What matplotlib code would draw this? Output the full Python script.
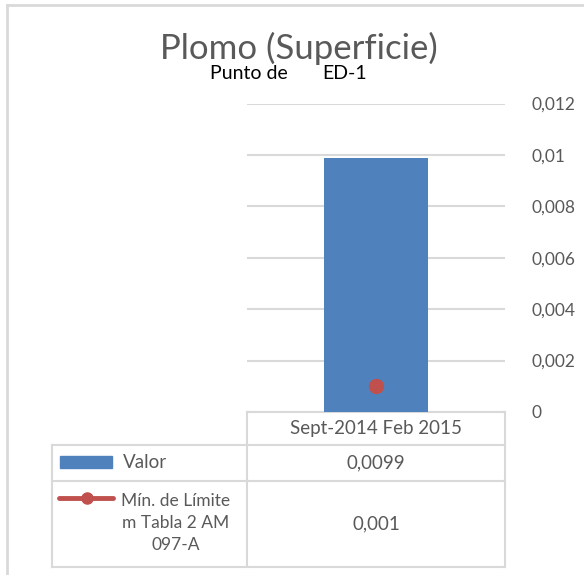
import matplotlib
matplotlib.use("Agg")
import matplotlib.pyplot as plt
from matplotlib.ticker import MultipleLocator, FuncFormatter
from matplotlib.patches import Rectangle
from matplotlib.lines import Line2D

plt.rcParams['font.family'] = ['Lato', 'DejaVu Sans']

# datos
periodos = ["Sept-2014 Feb 2015"]
valor = [0.0099]
limite = [0.001]
serie_valor = "Valor"
serie_limite = "Mín. de Límite\nm Tabla 2 AM\n097-A"
titulo = "Plomo (Superficie)"
punto_txt = "Punto de"
punto_id = "ED-1"

AZUL = "#4F81BD"
ROJO = "#C0504D"
GRIS = "#595959"
BORDE = "#D9D9D9"

W, H = 584, 575


def coma(v):
    return ("%g" % v).replace(".", ",")


fig = plt.figure(figsize=(W / 100, H / 100), dpi=100)

# capa en pixeles para marco, titulo y tabla
ov = fig.add_axes([0, 0, 1, 1])
ov.set_xlim(0, W)
ov.set_ylim(H, 0)
ov.axis("off")

# marco del grafico
ov.add_line(Line2D([6.5, 6.5], [H + 5, 4.5], color=BORDE, lw=2))
ov.add_line(Line2D([6.5, W + 5], [4.5, 4.5], color=BORDE, lw=2))

ov.text(299, 59, titulo, fontsize=25, color=GRIS, ha="center", va="baseline")
ov.text(210, 79, punto_txt, fontsize=14, color="black", ha="left", va="baseline")
ov.text(322, 79, punto_id, fontsize=14, color="black", ha="left", va="baseline")

# ejes del grafico
x0, x1, ytop, ybot = 247, 505, 103.6, 412
ax = fig.add_axes([x0 / W, (H - ybot) / H, (x1 - x0) / W, (ybot - ytop) / H])
ax.patch.set_alpha(0)
xs = list(range(len(periodos)))
ax.bar(xs, valor, width=0.40, color=AZUL, zorder=2)
ax.plot(xs, limite, color=ROJO, lw=3, marker="o", markersize=10, zorder=3)
ax.set_xlim(-0.5, len(periodos) - 0.5)
ax.set_ylim(0, 0.012)
ax.yaxis.set_major_locator(MultipleLocator(0.002))
ax.yaxis.set_major_formatter(FuncFormatter(lambda v, p: coma(round(v, 6))))
ax.yaxis.tick_right()
ax.tick_params(axis="y", length=0, pad=19, labelsize=12.5, labelcolor=GRIS)
ax.set_xticks([])
for lab in ax.get_yticklabels():
    lab.set_horizontalalignment("left")
ax.grid(axis="y", color=BORDE, lw=1.5, zorder=0)
for s in ax.spines.values():
    s.set_visible(False)

# tabla de datos
lx = 52
filas = [412, 445, 481, 567]
kw = dict(color=BORDE, lw=1.5)
ov.add_line(Line2D([x0, x1], [filas[0], filas[0]], **kw))
for y in filas[1:]:
    ov.add_line(Line2D([lx, x1], [y, y], **kw))
ov.add_line(Line2D([x0, x0], [filas[0], filas[3]], **kw))
ov.add_line(Line2D([x1, x1], [filas[0], filas[3]], **kw))
ov.add_line(Line2D([lx, lx], [filas[1], filas[3]], **kw))

cx = (x0 + x1) / 2
ov.text(cx, 428.5, periodos[0], fontsize=13.5, color=GRIS, ha="center", va="center")
ov.text(cx, 463, coma(valor[0]), fontsize=13.5, color=GRIS, ha="center", va="center")
ov.text(cx, 524, coma(limite[0]), fontsize=13.5, color=GRIS, ha="center", va="center")

# claves de la leyenda
ov.add_patch(Rectangle((60, 456), 52, 12, color=AZUL))
ov.text(123, 463, serie_valor, fontsize=13.5, color=GRIS, ha="left", va="center")
ov.add_line(Line2D([59, 113], [498, 498], color=ROJO, lw=3.5, solid_capstyle="round"))
ov.plot([87], [498], marker="o", color=ROJO, markersize=8)
ov.text(176, 523, serie_limite, fontsize=12.5, color=GRIS, ha="center", va="center",
        linespacing=1.45)

fig.savefig("out.png", dpi=100)
